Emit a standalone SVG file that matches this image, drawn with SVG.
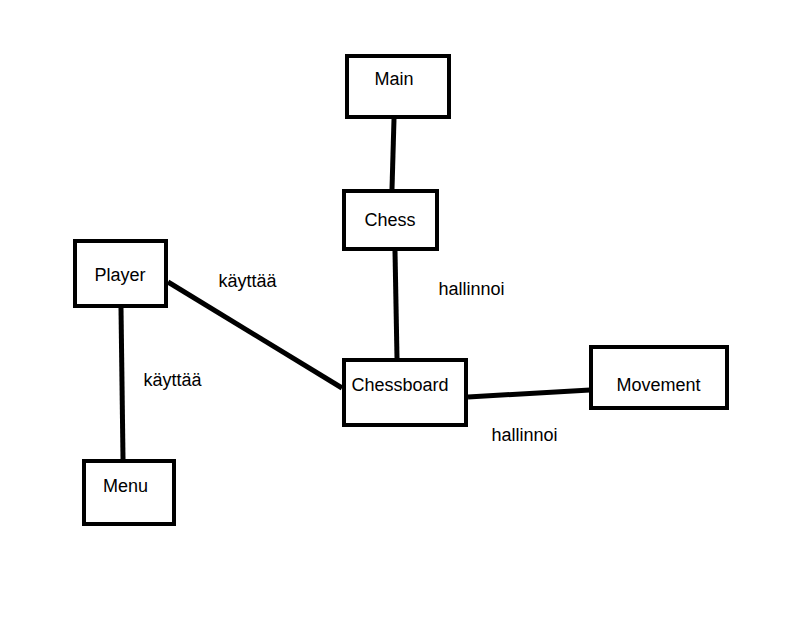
<svg xmlns="http://www.w3.org/2000/svg" width="811" height="620" viewBox="0 0 811 620">
<style>
.box{fill:#fff;stroke:#000;stroke-width:4}
.lbl{font-family:"Liberation Sans",Arial,sans-serif;font-size:18px;fill:#000;text-anchor:middle}
.edge{stroke:#000;stroke-width:5;fill:none}
</style>
<rect width="811" height="620" fill="#fff"/>
<g id="connectors">
<line class="edge" x1="394" y1="119" x2="392" y2="189"/>
<line class="edge" x1="395" y1="251" x2="397" y2="358"/>
<line class="edge" x1="121" y1="308" x2="123" y2="459"/>
<line class="edge" x1="168" y1="282" x2="342" y2="388"/>
<line class="edge" x1="468" y1="397" x2="590" y2="390"/>
<text class="lbl" x="247.5" y="287">käyttää</text>
<text class="lbl" x="172.5" y="386">käyttää</text>
<text class="lbl" x="471.5" y="295">hallinnoi</text>
<text class="lbl" x="524.5" y="441">hallinnoi</text>
</g>
<g id="main"><rect class="box" x="347" y="56" width="102" height="61"/><text class="lbl" x="394" y="85">Main</text></g>
<g id="chess"><rect class="box" x="344" y="191" width="93" height="58"/><text class="lbl" x="390" y="226">Chess</text></g>
<g id="player"><rect class="box" x="75" y="241" width="91" height="65"/><text class="lbl" x="120" y="281">Player</text></g>
<g id="menu"><rect class="box" x="84" y="461" width="90" height="63"/><text class="lbl" x="125.5" y="492">Menu</text></g>
<g id="chessboard"><rect class="box" x="344" y="360" width="122" height="65"/><text class="lbl" x="400" y="391">Chessboard</text></g>
<g id="movement"><rect class="box" x="591" y="347" width="136" height="61"/><text class="lbl" x="658.5" y="391">Movement</text></g>
</svg>
